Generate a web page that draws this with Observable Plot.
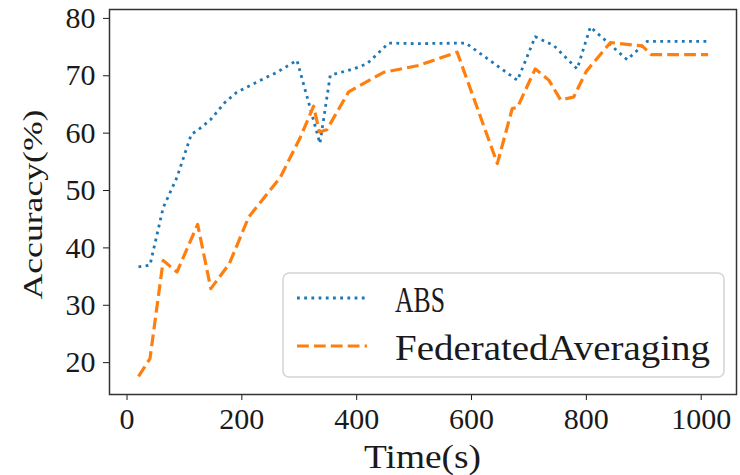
<!DOCTYPE html>
<html><head><meta charset="utf-8">
<script src="https://cdn.jsdelivr.net/npm/d3@7"></script>
<script src="https://cdn.jsdelivr.net/npm/@observablehq/plot@0.6"></script>
<style>body{margin:0;background:#fff} svg{display:block}</style>
</head><body><div id="chart"></div>
<script>
// ---- data ----
const seriesNames = ["ABS", "FederatedAveraging"];
const absTime = [20, 40, 63, 87, 112, 123, 145, 171, 191, 226, 261, 296, 336, 354, 395, 418, 456, 505, 590, 680, 711, 743, 784, 807, 871, 897, 906, 1012];
const absAcc  = [36.7, 37.0, 47.0, 52.3, 59.8, 60.5, 62.3, 65.4, 67.1, 68.9, 70.6, 72.7, 58.2, 70.1, 71.2, 72.1, 75.7, 75.6, 75.7, 69.2, 76.8, 75.3, 71.2, 78.5, 72.8, 75.2, 76.0, 76.0];
const fedTime = [20, 40, 63, 87, 123, 146, 178, 212, 267, 302, 325, 335, 348, 386, 447, 508, 575, 645, 671, 680, 711, 735, 755, 778, 800, 842, 897, 913, 1012];
const fedAcc  = [17.6, 20.7, 37.8, 35.8, 44.1, 32.9, 37.2, 45.4, 52.3, 59.3, 64.7, 60.2, 60.6, 67.2, 70.6, 71.8, 74.1, 54.7, 64.3, 64.5, 71.2, 69.2, 65.8, 66.3, 70.8, 75.8, 75.2, 73.7, 73.7];
const xTicks = [0, 200, 400, 600, 800, 1000];
const yTicks = [20, 30, 40, 50, 60, 70, 80];
const xLabel = "Time(s)";
const yLabel = "Accuracy(%)";

const absData = absTime.map((t, i) => ({t, a: absAcc[i]}));
const fedData = fedTime.map((t, i) => ({t, a: fedAcc[i]}));

const W = 740, H = 475, mL = 109, mT = 9, mR = 4, mB = 81;
const blue = "#1f77b4", orange = "#ff7f0e";
const blueDash = "2.8,4.4", orangeDash = "11.8,5.1";

const plot = Plot.plot({
  width: W, height: H,
  marginLeft: mL, marginTop: mT, marginRight: mR, marginBottom: mB,
  style: {fontFamily: "'Liberation Serif', serif", fontSize: "30px", color: "#1a1a1a", background: "#fff", overflow: "visible"},
  x: {domain: [-30.5, 1061.5], ticks: xTicks, tickSize: 6, tickPadding: 7, tickFormat: d => String(d), label: null},
  y: {domain: [14.45, 81.55], ticks: yTicks, tickSize: 6, tickPadding: 8, tickFormat: d => String(d), label: null},
  marks: [
    Plot.line(absData, {x: "t", y: "a", stroke: blue, strokeWidth: 2.8, strokeDasharray: blueDash, strokeLinecap: "butt", strokeLinejoin: "round"}),
    Plot.line(fedData, {x: "t", y: "a", stroke: orange, strokeWidth: 3.2, strokeDasharray: orangeDash, strokeLinecap: "butt", strokeLinejoin: "round"}),
    Plot.frame({stroke: "#333", strokeWidth: 1.5})
  ]
});
document.getElementById("chart").appendChild(plot);

const svg = d3.select(plot);
const labelFont = "'Liberation Serif', serif";
// axis titles
svg.append("text")
  .attr("x", (mL + W - mR) / 2).attr("y", 468)
  .attr("text-anchor", "middle")
  .attr("font-family", labelFont).attr("font-size", 34).attr("fill", "#1a1a1a")
  .attr("textLength", 117).attr("lengthAdjust", "spacingAndGlyphs")
  .text(xLabel);
svg.append("text")
  .attr("transform", `translate(42,${(mT + H - mB) / 2 + 3}) rotate(-90)`)
  .attr("text-anchor", "middle")
  .attr("font-family", labelFont).attr("font-size", 28).attr("fill", "#1a1a1a")
  .attr("textLength", 190).attr("lengthAdjust", "spacingAndGlyphs")
  .text(yLabel);

// legend
const lg = svg.append("g");
lg.append("rect").attr("x", 283).attr("y", 273).attr("width", 441).attr("height", 104)
  .attr("rx", 6).attr("fill", "#fff").attr("fill-opacity", 0.85)
  .attr("stroke", "#d4d4d4").attr("stroke-width", 1.5);
const items = [
  {name: seriesNames[0], color: blue, dash: blueDash, w: 2.8, y: 298, tl: 50},
  {name: seriesNames[1], color: orange, dash: orangeDash, w: 3.2, y: 346, tl: 315}
];
items.forEach(it => {
  lg.append("line").attr("x1", 297).attr("x2", 367).attr("y1", it.y).attr("y2", it.y)
    .attr("stroke", it.color).attr("stroke-width", it.w).attr("stroke-dasharray", it.dash)
    .attr("stroke-linecap", "butt");
  lg.append("text").attr("x", 395).attr("y", it.y + 13.5)
    .attr("text-anchor", "start")
    .attr("font-family", labelFont).attr("font-size", 36).attr("fill", "#1a1a1a")
    .attr("textLength", it.tl).attr("lengthAdjust", "spacingAndGlyphs")
    .text(it.name);
});
</script>
</body></html>
